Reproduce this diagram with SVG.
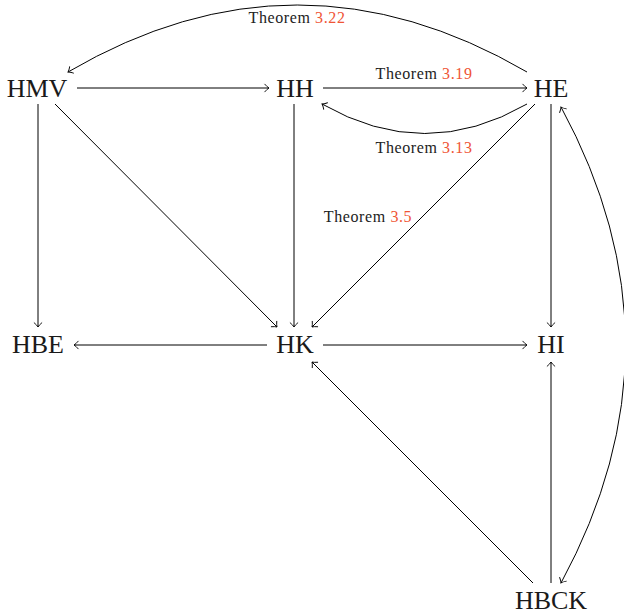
<svg xmlns="http://www.w3.org/2000/svg" width="624" height="614" viewBox="0 0 624 614">
  <defs>
    <marker id="arr" markerUnits="userSpaceOnUse" markerWidth="12" markerHeight="12" viewBox="-6 -6 12 12" refX="0" refY="0" orient="auto-start-reverse">
      <path d="M-4.2,-3.8 Q-1.6,-0.8 0,0 Q-1.6,0.8 -4.2,3.8" fill="none" stroke="#000" stroke-width="0.9" stroke-linecap="round"/>
    </marker>
  </defs>
  <style>
    .node { font-family: "Liberation Serif", "Times New Roman", serif; font-size: 26px; fill: #1a1a1a; text-anchor: middle; }
    .edge { fill: none; stroke: #000; stroke-width: 1; marker-end: url(#arr); }
    .both { marker-start: url(#arr); }
    .lbl { font-family: "Liberation Serif", "Times New Roman", serif; font-size: 16px; letter-spacing: 0.6px; fill: #222; text-anchor: middle; }
    .ref { fill: #ef5535; }
  </style>
  <rect width="624" height="614" fill="#fff"/>

  <g id="connectors">
    <path class="edge" d="M77,88 L269,88"/>
    <path class="edge" d="M323,88 L527,88"/>
    <path class="edge" d="M527,104 Q425,163 322,104"/>
    <path class="edge" d="M527,72 Q297,-62 68,72"/>
    <path class="edge" d="M38,104 L38,327"/>
    <path class="edge" d="M55,104 L277,327"/>
    <path class="edge" d="M294,104 L294,327"/>
    <path class="edge" d="M535,104 L312,327"/>
    <path class="edge" d="M551,104 L551,327"/>
    <path class="edge" d="M267,345 L74,345"/>
    <path class="edge" d="M323,345 L527,345"/>
    <path class="edge" d="M533,583 L312,362"/>
    <path class="edge" d="M551,583 L551,362"/>
    <path class="edge both" d="M561,107 Q690,345 561,583"/>
    <text class="lbl" x="297" y="23">Theorem <tspan class="ref">3.22</tspan></text>
    <text class="lbl" x="424" y="79">Theorem <tspan class="ref">3.19</tspan></text>
    <text class="lbl" x="424" y="153">Theorem <tspan class="ref">3.13</tspan></text>
    <text class="lbl" x="368" y="222">Theorem <tspan class="ref">3.5</tspan></text>
  </g>

  <g id="HMV"><text class="node" x="37" y="97">HMV</text></g>
  <g id="HH"><text class="node" x="295" y="97">HH</text></g>
  <g id="HE"><text class="node" x="551" y="97">HE</text></g>
  <g id="HBE"><text class="node" x="38" y="353">HBE</text></g>
  <g id="HK"><text class="node" x="295" y="353">HK</text></g>
  <g id="HI"><text class="node" x="551" y="353">HI</text></g>
  <g id="HBCK"><text class="node" x="551" y="609">HBCK</text></g>
</svg>
